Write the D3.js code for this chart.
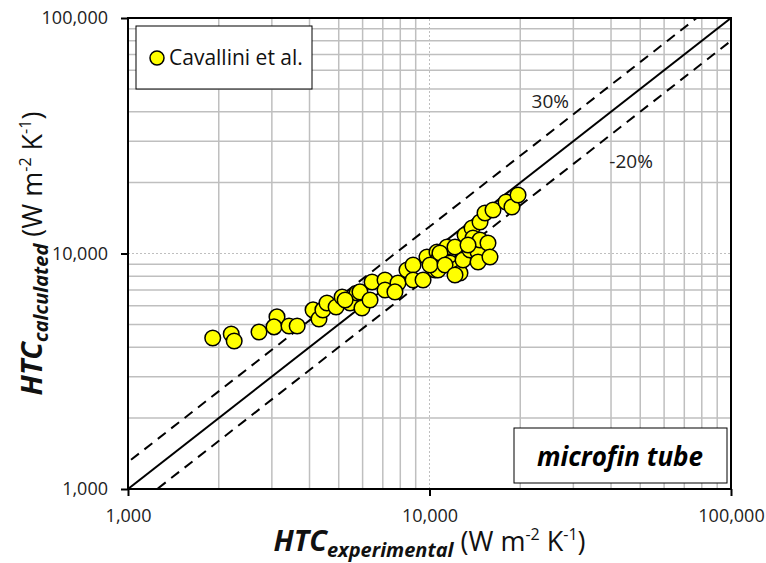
<!DOCTYPE html>
<html>
<head>
<meta charset="utf-8">
<script src="https://cdn.jsdelivr.net/npm/d3@7"></script>
<style>
  body { margin: 0; background: #fff; }
  svg { display: block; font-family: "Open Sans", Lato, sans-serif; }
</style>
</head>
<body>
<div id="chart"></div>
<script>
// measured vs calculated HTC, Cavallini et al. correlation (microfin tube)
const htcExp = [1910, 2200, 2250, 2720, 3120, 3050, 3420, 3640, 4110, 4300,
  4430, 4570, 4900, 5130, 5450, 5750, 5250, 5880, 5970, 6350,
  6450, 7120, 7120, 7860, 8420, 8820, 8820, 9520, 9810, 10430,
  10590, 10670, 11430, 10830, 12150, 11700, 12430, 12620, 12920, 13120,
  13630, 13840, 13940, 14490, 14490, 14710, 14710, 15280, 15630, 15870,
  16240, 17940, 18770, 19660, 10670, 7680, 10040, 11260, 12150, 13420];
const htcCalc = [4380, 4550, 4250, 4640, 5380, 4880, 4920, 4920, 5760, 5270,
  5760, 6160, 5930, 6540, 6160, 6800, 6350, 6870, 5870, 6350,
  7570, 7720, 7000, 7490, 8510, 8940, 7720, 7720, 9660, 8510,
  10150, 9380, 10660, 10050, 10660, 9110, 8680, 8270, 9380, 11980,
  10350, 12830, 11640, 10150, 9200, 13610, 11410, 14860, 11080, 9660,
  15300, 16550, 15760, 17720, 8510, 6870, 8940, 8940, 8100, 10870];

const axisTicks = [1000, 10000, 100000];
const gridValues = [2000, 3000, 4000, 5000, 6000, 7000, 8000, 9000,
  20000, 30000, 40000, 50000, 60000, 70000, 80000, 90000];
const bandFactors = [1.3, 0.8];       // +30% / -20% bands
const bandLabels = ["30%", "-20%"];
const seriesName = "Cavallini et al.";

const W = 766, H = 563;
const m = {left: 128, right: 35, top: 18, bottom: 74};

const svg = d3.select('#chart').append('svg').attr('width', W).attr('height', H);

const x = d3.scaleLog().domain([1000, 100000]).range([m.left, W - m.right]);
const y = d3.scaleLog().domain([1000, 100000]).range([H - m.bottom, m.top]);

svg.append('clipPath').attr('id', 'plotclip').append('rect')
  .attr('x', m.left).attr('y', m.top)
  .attr('width', W - m.left - m.right).attr('height', H - m.top - m.bottom);

// grid
const grid = svg.append('g');
grid.selectAll('.vg').data(gridValues).enter().append('line')
  .attr('x1', d => x(d)).attr('x2', d => x(d)).attr('y1', y(1000)).attr('y2', y(100000))
  .attr('stroke', '#bfbfbf').attr('stroke-width', 1.5);
grid.selectAll('.hg').data(gridValues).enter().append('line')
  .attr('y1', d => y(d)).attr('y2', d => y(d)).attr('x1', x(1000)).attr('x2', x(100000))
  .attr('stroke', '#bfbfbf').attr('stroke-width', 1.5);
grid.append('line').attr('x1', x(10000)).attr('x2', x(10000)).attr('y1', y(1000)).attr('y2', y(100000))
  .attr('stroke', '#bfbfbf').attr('stroke-width', 1).attr('stroke-dasharray', '2,2');
grid.append('line').attr('y1', y(10000)).attr('y2', y(10000)).attr('x1', x(1000)).attr('x2', x(100000))
  .attr('stroke', '#bfbfbf').attr('stroke-width', 1).attr('stroke-dasharray', '2,2');

// parity line and error bands
const lines = svg.append('g').attr('clip-path', 'url(#plotclip)');
lines.append('line')
  .attr('x1', x(1000)).attr('y1', y(1000)).attr('x2', x(100000)).attr('y2', y(100000))
  .attr('stroke', '#000').attr('stroke-width', 2);
bandFactors.forEach(f => {
  lines.append('line')
    .attr('x1', x(500)).attr('y1', y(500 * f)).attr('x2', x(200000)).attr('y2', y(200000 * f))
    .attr('stroke', '#000').attr('stroke-width', 2).attr('stroke-dasharray', '10,7');
});

// points
svg.append('g').selectAll('circle').data(htcExp.map((v, i) => [v, htcCalc[i]])).enter()
  .append('circle')
  .attr('cx', d => x(d[0])).attr('cy', d => y(d[1])).attr('r', 7.8)
  .attr('fill', '#ffff00').attr('stroke', '#000').attr('stroke-width', 1.5);

// frame
svg.append('rect').attr('x', m.left).attr('y', m.top)
  .attr('width', W - m.left - m.right).attr('height', H - m.top - m.bottom)
  .attr('fill', 'none').attr('stroke', '#000').attr('stroke-width', 2);

// axes
const fmt = d3.format(',');
const xAxis = svg.append('g').attr('transform', `translate(0,${y(1000)})`)
  .call(d3.axisBottom(x).tickValues(axisTicks).tickFormat(fmt).tickSizeInner(7).tickSizeOuter(0).tickPadding(13));
const yAxis = svg.append('g').attr('transform', `translate(${x(1000)},0)`)
  .call(d3.axisLeft(y).tickValues(axisTicks).tickFormat(fmt).tickSizeInner(7).tickSizeOuter(0).tickPadding(13));
[xAxis, yAxis].forEach(a => {
  a.select('.domain').remove();
  a.selectAll('line').attr('stroke-width', 2);
  a.selectAll('text').attr('font-size', 18).attr('fill', '#222').attr('font-family', '"Open Sans", sans-serif');
});

// band labels
svg.append('text').attr('x', x(21800)).attr('y', y(41500)).attr('font-size', 19).attr('fill', '#222').text(bandLabels[0]);
svg.append('text').attr('x', x(39500)).attr('y', y(23000)).attr('font-size', 19).attr('fill', '#222').text(bandLabels[1]);

// legend
const leg = svg.append('g');
leg.append('rect').attr('x', 136).attr('y', 26).attr('width', 176).attr('height', 63)
  .attr('fill', '#fff').attr('stroke', '#000').attr('stroke-width', 1);
leg.append('circle').attr('cx', 157).attr('cy', 58).attr('r', 7)
  .attr('fill', '#ffff00').attr('stroke', '#000').attr('stroke-width', 1.5);
leg.append('text').attr('x', 169).attr('y', 65).attr('font-size', 21).attr('fill', '#111').text(seriesName);

// tube label
const tb = svg.append('g');
tb.append('rect').attr('x', 514).attr('y', 428).attr('width', 213).attr('height', 55)
  .attr('fill', '#fff').attr('stroke', '#000').attr('stroke-width', 1);
tb.append('text').attr('x', 620).attr('y', 466).attr('text-anchor', 'middle')
  .attr('font-size', 26).attr('font-weight', 'bold').attr('font-style', 'italic').text('microfin tube');

// axis titles
function axisTitle(g, sub) {
  const t = g.append('text').attr('text-anchor', 'middle').attr('fill', '#111');
  t.append('tspan').attr('font-size', 29).attr('font-weight', 'bold').attr('font-style', 'italic').text('HTC');
  t.append('tspan').attr('font-size', 20).attr('font-weight', 'bold').attr('font-style', 'italic').attr('dy', 6).text(sub);
  t.append('tspan').attr('font-size', 27).attr('dy', -6).text(' (W m');
  t.append('tspan').attr('font-size', 16).attr('dy', -11).text('-2');
  t.append('tspan').attr('font-size', 27).attr('dy', 11).text(' K');
  t.append('tspan').attr('font-size', 16).attr('dy', -11).text('-1');
  t.append('tspan').attr('font-size', 27).attr('dy', 11).text(')');
  return t;
}
axisTitle(svg.append('g').attr('transform', `translate(${x(10000)},551)`), 'experimental');
axisTitle(svg.append('g').attr('transform', `translate(42,${y(10000)}) rotate(-90)`), 'calculated');
</script>
</body>
</html>
